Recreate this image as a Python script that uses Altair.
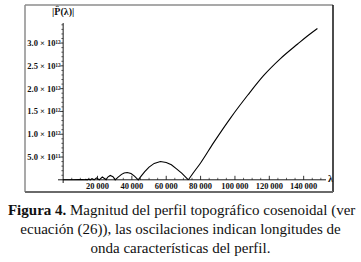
import altair as alt
import pandas as pd

# ---- data (magnitude in units of 1e12) ----
lam_osc = [0, 6000, 9000, 11000, 12500, 13200, 14000, 14800, 15800, 16800, 18000,
           19400, 21000, 22800, 25000, 26000, 27400, 29000, 30300, 32000, 34000,
           35500, 37300, 39500, 41500, 43700, 45500, 47500, 50000, 53000, 56600,
           60000, 63000, 66000, 69000, 71000, 72900]
mag_osc = [0, 0.002, 0.004, 0.006, 0.0, 0.008, 0.0, 0.015, 0.0, 0.025, 0.0,
           0.042, 0.0, 0.062, 0.0, 0.06, 0.095, 0.07, 0.0, 0.06, 0.12,
           0.15, 0.16, 0.137, 0.08, 0.0, 0.088, 0.18, 0.28, 0.36, 0.40,
           0.38, 0.33, 0.24, 0.145, 0.07, 0.0]
lam_rise = [72900, 76000, 80000, 87500, 97500, 107500, 116500, 126500,
            136500, 142000, 148000]
mag_rise = [0.0, 0.165, 0.37, 0.81, 1.36, 1.86, 2.28, 2.66, 2.98, 3.15, 3.32]

x_major = [20000, 40000, 60000, 80000, 100000, 120000, 140000]
x_labels = ["20\u2009000", "40\u2009000", "60\u2009000", "80\u2009000",
            "100\u2009000", "120\u2009000", "140\u2009000"]
x_minor = [v for v in range(5000, 155000, 5000) if v % 20000 != 0]
y_major = [0.5, 1.0, 1.5, 2.0, 2.5, 3.0]
y_labels = ["5.0 \u00d7 10\u00b9\u00b9", "1.0 \u00d7 10\u00b9\u00b2",
            "1.5 \u00d7 10\u00b9\u00b2", "2.0 \u00d7 10\u00b9\u00b2",
            "2.5 \u00d7 10\u00b9\u00b2", "3.0 \u00d7 10\u00b9\u00b2"]
y_minor = [round(i * 0.1, 1) for i in range(1, 35) if i % 5 != 0]

x_title = "\u03bb"
y_title = "|P\u0302(\u03bb)|"
caption_bold = "Figura 4."
caption_l1 = "Magnitud del perfil topográfico cosenoidal (ver"
caption_l2 = "ecuación (26)), las oscilaciones indican longitudes de"
caption_l3 = "onda características del perfil."

SERIF = "Liberation Serif"

xs = alt.Scale(domain=[-3000, 153000], nice=False, zero=False)
ys = alt.Scale(domain=[-0.07, 3.44], nice=False, zero=False)
one = alt.Data(values=[{}])

hidden = dict(labels=False, ticks=False, domain=False, grid=False, title="")

# frame around the figure
frame_col = "#8c8c8c"
frame = [
    alt.Chart(one).mark_rule(color=frame_col, strokeWidth=1.5).encode(
        x=alt.value(-33), x2=alt.value(275), y=alt.value(-18)),
    alt.Chart(one).mark_rule(color=frame_col, strokeWidth=1.5).encode(
        x=alt.value(-33), y=alt.value(-18), y2=alt.value(169)),
    alt.Chart(one).mark_rule(color="#111111", strokeWidth=1.5).encode(
        x=alt.value(275), y=alt.value(-18), y2=alt.value(169)),
    alt.Chart(one).mark_rule(color="#6a6a6a", strokeWidth=2).encode(
        x=alt.value(-33), x2=alt.value(275), y=alt.value(169)),
]

line_osc = alt.Chart(pd.DataFrame({"lam": lam_osc, "mag": mag_osc})).mark_line(
    color="black", strokeWidth=1.1).encode(
    x=alt.X("lam:Q", scale=xs, axis=alt.Axis(**hidden)),
    y=alt.Y("mag:Q", scale=ys, axis=alt.Axis(**hidden)))
line_rise = alt.Chart(pd.DataFrame({"lam": lam_rise, "mag": mag_rise})).mark_line(
    color="black", strokeWidth=1.1, interpolate="monotone").encode(
    x=alt.X("lam:Q", scale=xs),
    y=alt.Y("mag:Q", scale=ys))

xaxis_line = alt.Chart(pd.DataFrame({"a": [-3000], "b": [153000]})).mark_rule(
    color="black", strokeWidth=0.9).encode(
    x=alt.X("a:Q", scale=xs), x2="b:Q", y=alt.datum(0))
yaxis_line = alt.Chart(pd.DataFrame({"a": [-0.07], "b": [3.44]})).mark_rule(
    color="black", strokeWidth=0.9).encode(
    y=alt.Y("a:Q", scale=ys), y2="b:Q", x=alt.datum(0))

xt_major = alt.Chart(pd.DataFrame({"v": x_major})).mark_rule(
    color="black", strokeWidth=0.8, y2Offset=-4).encode(
    x=alt.X("v:Q", scale=xs), y=alt.datum(0), y2=alt.datum(0))
xt_minor = alt.Chart(pd.DataFrame({"v": x_minor})).mark_rule(
    color="black", strokeWidth=0.6, y2Offset=-2).encode(
    x=alt.X("v:Q", scale=xs), y=alt.datum(0), y2=alt.datum(0))
yt_major = alt.Chart(pd.DataFrame({"v": y_major})).mark_rule(
    color="black", strokeWidth=0.8, x2Offset=-3).encode(
    y=alt.Y("v:Q", scale=ys), x=alt.datum(0), x2=alt.datum(0))
yt_minor = alt.Chart(pd.DataFrame({"v": y_minor})).mark_rule(
    color="black", strokeWidth=0.6, x2Offset=-1.8).encode(
    y=alt.Y("v:Q", scale=ys), x=alt.datum(0), x2=alt.datum(0))

xlab = alt.Chart(pd.DataFrame({"v": x_major, "t": x_labels})).mark_text(
    font=SERIF, fontSize=8.5, fontWeight="bold", color="#111111",
    baseline="top", align="center", dy=2).encode(
    x=alt.X("v:Q", scale=xs), y=alt.datum(0), text="t:N")
ylab = alt.Chart(pd.DataFrame({"v": y_major, "t": y_labels})).mark_text(
    font=SERIF, fontSize=8.5, fontWeight="bold", color="#111111",
    baseline="middle", align="right", dx=-2.5).encode(
    y=alt.Y("v:Q", scale=ys), x=alt.datum(0), text="t:N")

xtitle = alt.Chart(pd.DataFrame({"v": [153000]})).mark_text(
    text=x_title, font=SERIF, fontSize=10, fontWeight="bold", color="#111111",
    align="left", baseline="middle", dx=2, dy=-1).encode(
    x=alt.X("v:Q", scale=xs), y=alt.datum(0))
ytitle = alt.Chart(pd.DataFrame({"v": [3.44]})).mark_text(
    text=y_title, font=SERIF, fontSize=10, fontWeight="bold", color="#111111",
    align="center", baseline="middle", dy=-11).encode(
    y=alt.Y("v:Q", scale=ys), x=alt.datum(0))

cap = [
    alt.Chart(one).mark_text(text=caption_bold, font=SERIF, fontSize=15,
                             fontWeight="bold", align="right",
                             baseline="middle", color="#111111").encode(
        x=alt.value(8.3), y=alt.value(187)),
    alt.Chart(one).mark_text(text=caption_l1, font=SERIF, fontSize=15,
                             align="left", baseline="middle",
                             color="#111111").encode(
        x=alt.value(12), y=alt.value(187)),
    alt.Chart(one).mark_text(text=caption_l2, font=SERIF, fontSize=15,
                             align="center", baseline="middle",
                             color="#111111").encode(
        x=alt.value(122.5), y=alt.value(206)),
    alt.Chart(one).mark_text(text=caption_l3, font=SERIF, fontSize=15,
                             align="center", baseline="middle",
                             color="#111111").encode(
        x=alt.value(122.5), y=alt.value(225)),
]

chart = alt.layer(
    line_osc, line_rise, xaxis_line, yaxis_line, xt_major, xt_minor,
    yt_major, yt_minor, xlab, ylab, xtitle, ytitle, *frame, *cap
).properties(
    width=268, height=160,
    autosize=alt.AutoSizeParams(type="none"),
    padding={"left": 58, "top": 23, "right": 35, "bottom": 79},
    background="white",
).configure_view(stroke="transparent")

chart.save("out.html", embed_options={"renderer": "svg", "actions": False})
